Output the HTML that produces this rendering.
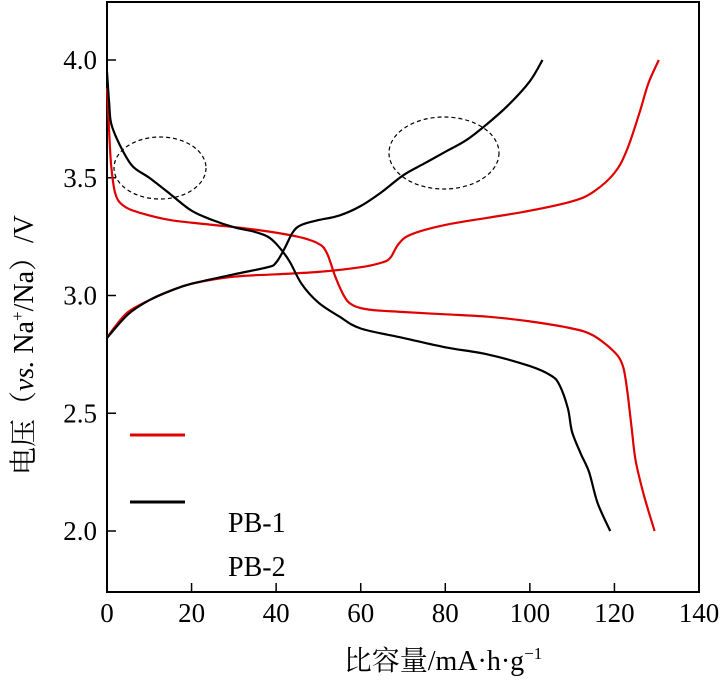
<!DOCTYPE html>
<html><head><meta charset="utf-8"><style>
html,body{margin:0;padding:0;background:#fff;}
svg{display:block;font-family:"Liberation Serif","Noto Serif CJK SC",serif;}
</style></head><body>
<svg id="chart" width="720" height="682">
<rect x="107" y="2" width="592" height="590" fill="none" stroke="#000" stroke-width="2"/>
<g id="ticks"></g>
<g id="series"></g>
<ellipse cx="160" cy="168" rx="46" ry="31" fill="none" stroke="#000" stroke-width="1.2" stroke-dasharray="4,3"/>
<ellipse cx="444" cy="153" rx="55" ry="36" fill="none" stroke="#000" stroke-width="1.2" stroke-dasharray="4,3"/>
<line x1="130" y1="435" x2="185" y2="435" stroke="#e00000" stroke-width="3"/>
<line x1="130" y1="502" x2="185" y2="502" stroke="#000" stroke-width="3"/>
<text x="228" y="532" font-size="28">PB-1</text>
<text x="228" y="576" font-size="28">PB-2</text>
<text x="443" y="670" font-size="28" text-anchor="middle">比容量/mA·h·g<tspan dy="-11" font-size="17">−1</tspan></text>
<text transform="translate(33,345) rotate(-90)" font-size="28" text-anchor="middle">电压（<tspan font-style="italic">vs.</tspan> Na<tspan dy="-10" font-size="17">+</tspan><tspan dy="10">/Na）/V</tspan></text>
</svg>
<script>
const xTicks=[0,20,40,60,80,100,120,140];
const yTicks=[2.0,2.5,3.0,3.5,4.0];
const redChargeX=[0,2,5,10,15,20,30,40,50,60,65,67,69,72,80,90,100,110,115,120,123,126,128,130.5];
const redChargeY=[2.82,2.87,2.93,2.98,3.02,3.05,3.08,3.09,3.10,3.12,3.14,3.16,3.22,3.26,3.30,3.33,3.36,3.40,3.44,3.52,3.62,3.78,3.90,4.0];
const redDisX=[0,0.5,1,2,4,8,15,25,35,45,50,52,54,56,58,62,70,80,90,100,110,115,120,122,123,124,125,127,129.5];
const redDisY=[3.88,3.7,3.55,3.43,3.38,3.35,3.32,3.30,3.28,3.25,3.22,3.18,3.08,3.00,2.96,2.94,2.93,2.92,2.91,2.89,2.86,2.83,2.76,2.70,2.60,2.45,2.30,2.15,2.0];
const blackChargeX=[0,5,10,15,20,30,38,40,42,44,46,50,55,60,65,70,75,80,85,90,95,100,103];
const blackChargeY=[2.82,2.92,2.98,3.02,3.05,3.09,3.12,3.14,3.20,3.27,3.30,3.32,3.34,3.38,3.44,3.51,3.56,3.61,3.66,3.73,3.81,3.91,4.0];
const blackDisX=[0,0.5,1,3,6,10,15,20,25,30,35,38,40,43,46,50,55,60,70,80,90,100,105,107,109,110,112,114,116,119];
const blackDisY=[3.95,3.82,3.73,3.64,3.55,3.50,3.43,3.36,3.32,3.29,3.27,3.25,3.22,3.15,3.05,2.97,2.91,2.86,2.82,2.78,2.75,2.70,2.66,2.62,2.52,2.42,2.33,2.25,2.12,2.0];
const NS='http://www.w3.org/2000/svg';
function sx(v){return 107+v*(592/140);}
function sy(v){return 531-(v-2)*(471/2);}
const tg=document.getElementById('ticks');
xTicks.forEach(t=>{
 const l=document.createElementNS(NS,'line');
 l.setAttribute('x1',sx(t));l.setAttribute('x2',sx(t));l.setAttribute('y1',592);l.setAttribute('y2',583);
 l.setAttribute('stroke','#000');l.setAttribute('stroke-width','1.5');
 
 
 tg.appendChild(l);
 const tx=document.createElementNS(NS,'text');
 tx.setAttribute('x',sx(t));tx.setAttribute('y',622);tx.setAttribute('font-size','27');tx.setAttribute('text-anchor','middle');
 tx.textContent=t;
 
 
 tg.appendChild(tx);
});
yTicks.forEach(t=>{
 const l=document.createElementNS(NS,'line');
 l.setAttribute('x1',107);l.setAttribute('x2',116);l.setAttribute('y1',sy(t));l.setAttribute('y2',sy(t));
 l.setAttribute('stroke','#000');l.setAttribute('stroke-width','1.5');
 
 
 tg.appendChild(l);
 const tx=document.createElementNS(NS,'text');
 tx.setAttribute('x',97);tx.setAttribute('y',sy(t)+9);tx.setAttribute('font-size','27');tx.setAttribute('text-anchor','end');
 tx.textContent=t.toFixed(1);
 
 
 tg.appendChild(tx);
});
const sg=document.getElementById('series');
function smooth(pts){
 let d='M'+pts[0][0].toFixed(1)+','+pts[0][1].toFixed(1);
 for(let i=0;i<pts.length-1;i++){
  const p0=pts[i-1]||pts[i],p1=pts[i],p2=pts[i+1],p3=pts[i+2]||p2;
  const c1=[p1[0]+(p2[0]-p0[0])/6,p1[1]+(p2[1]-p0[1])/6];
  const c2=[p2[0]-(p3[0]-p1[0])/6,p2[1]-(p3[1]-p1[1])/6];
  d+='C'+c1[0].toFixed(1)+','+c1[1].toFixed(1)+' '+c2[0].toFixed(1)+','+c2[1].toFixed(1)+' '+p2[0].toFixed(1)+','+p2[1].toFixed(1);
 }
 return d;
}
function draw(xs,ys,color,name){
 const p=document.createElementNS(NS,'path');
 p.setAttribute('d',smooth(xs.map((x,i)=>[sx(x),sy(ys[i])])));
 p.setAttribute('fill','none');p.setAttribute('stroke',color);p.setAttribute('stroke-width','2.2');p.setAttribute('stroke-linejoin','round');
 
 
 sg.appendChild(p);
}
draw(redChargeX,redChargeY,'#e00000','pb1-charge-curve');
draw(redDisX,redDisY,'#e00000','pb1-discharge-curve');
draw(blackChargeX,blackChargeY,'#000','pb2-charge-curve');
draw(blackDisX,blackDisY,'#000','pb2-discharge-curve');
</script>
</body></html>
